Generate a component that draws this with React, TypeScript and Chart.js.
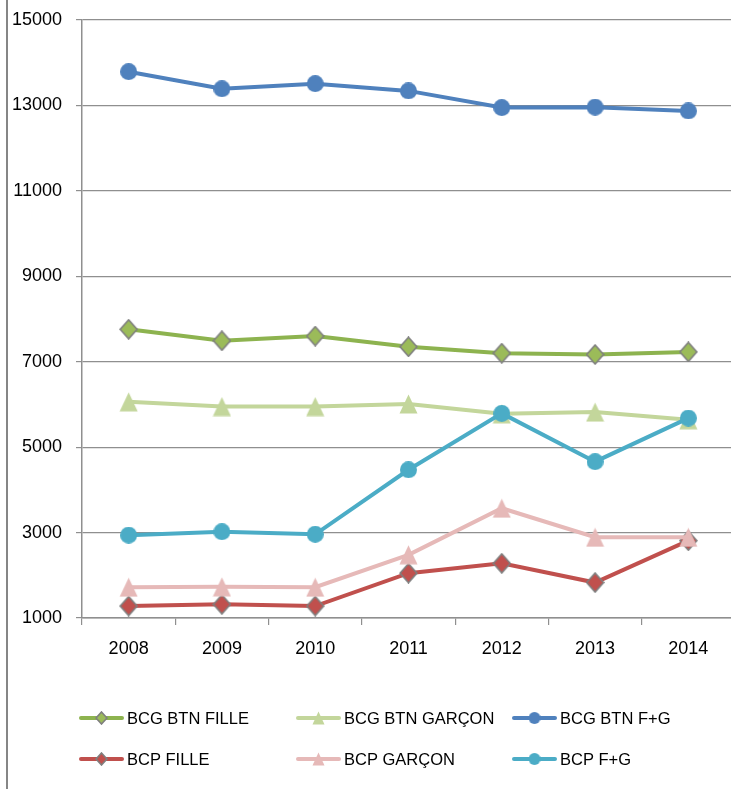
import React, { useEffect, useRef } from 'react';
import { Chart, registerables } from 'chart.js';

Chart.register(...registerables);

const categories = ['2008', '2009', '2010', '2011', '2012', '2013', '2014'];
const bcgBtnFille = [7760, 7490, 7600, 7350, 7200, 7170, 7230];
const bcgBtnGarcon = [6060, 5950, 5950, 6010, 5780, 5820, 5640];
const bcgBtnFG = [13790, 13390, 13510, 13340, 12950, 12960, 12870];
const bcpFille = [1280, 1320, 1280, 2050, 2280, 1830, 2810];
const bcpGarcon = [1720, 1730, 1720, 2480, 3570, 2890, 2890];
const bcpFG = [2940, 3020, 2960, 4470, 5790, 4660, 5680];
const yMin = 1000;
const yMax = 15000;
const yStep = 2000;

const seriesNames = ['BCG BTN FILLE', 'BCG BTN GARÇON', 'BCG BTN F+G', 'BCP FILLE', 'BCP GARÇON', 'BCP F+G'];
const seriesData = [bcgBtnFille, bcgBtnGarcon, bcgBtnFG, bcpFille, bcpGarcon, bcpFG];
const lineColors = ['#8DB34F', '#C3D69B', '#4F81BD', '#C0504D', '#E6B9B8', '#4BACC6'];
const markerFills = ['#9BBB59', '#C3D69B', '#4F81BD', '#C0504D', '#E6B9B8', '#4BACC6'];
const markerKinds = ['diamond', 'triangle', 'circle', 'diamond', 'triangle', 'circle'];

const FONT = '"Liberation Sans", Arial, sans-serif';
const GRID = '#8f8f8f';

function makeMarker(kind: string, fill: string, scale: number): HTMLCanvasElement {
  const c = document.createElement('canvas');
  let w = 19, h = 20;
  if (kind === 'diamond') { w = 19; h = 21; }
  if (kind === 'circle') { w = 17; h = 17; }
  w = Math.round(w * scale); h = Math.round(h * scale);
  c.width = w; c.height = h;
  const ctx = c.getContext('2d')!;
  ctx.fillStyle = fill;
  ctx.beginPath();
  if (kind === 'diamond') {
    ctx.moveTo(w / 2, 1);
    ctx.lineTo(w - 1, h / 2);
    ctx.lineTo(w / 2, h - 1);
    ctx.lineTo(1, h / 2);
    ctx.closePath();
    ctx.fill();
    ctx.strokeStyle = '#7F7F7F';
    ctx.lineWidth = 1.6;
    ctx.stroke();
  } else if (kind === 'triangle') {
    ctx.moveTo(w / 2, 0.5);
    ctx.lineTo(w - 0.5, h - 0.5);
    ctx.lineTo(0.5, h - 0.5);
    ctx.closePath();
    ctx.fill();
  } else {
    ctx.arc(w / 2, h / 2, w / 2, 0, Math.PI * 2);
    ctx.fill();
  }
  return c;
}

export default function App() {
  const ref = useRef<HTMLCanvasElement>(null);

  useEffect(() => {
    const canvas = ref.current!;
    const markers = markerKinds.map((k, i) => makeMarker(k, markerFills[i], 1));
    const legendMarkers = markerKinds.map((k, i) => makeMarker(k, markerFills[i], 0.68));

    const legendPlugin = {
      id: 'customLegend',
      afterDraw(chart: any) {
        const ctx = chart.ctx as CanvasRenderingContext2D;
        const area = chart.chartArea;
        const rows = [area.bottom + 100, area.bottom + 141];
        const cols = [area.left - 2, area.left + 215, area.left + 431];
        ctx.save();
        seriesNames.forEach((name, i) => {
          const y = rows[Math.floor(i / 3)];
          const x = cols[i % 3];
          ctx.strokeStyle = lineColors[i];
          ctx.lineWidth = 4;
          ctx.lineCap = 'round';
          ctx.beginPath();
          ctx.moveTo(x + 1, y);
          ctx.lineTo(x + 42, y);
          ctx.stroke();
          const m = legendMarkers[i];
          ctx.drawImage(m, x + 21.5 - m.width / 2, y - m.height / 2);
          ctx.fillStyle = '#000';
          ctx.font = `16.5px ${FONT}`;
          ctx.textBaseline = 'middle';
          ctx.textAlign = 'left';
          ctx.fillText(name, x + 47, y + 1);
        });
        ctx.restore();
      },
    };

    const chart = new Chart(canvas, {
      type: 'line',
      data: {
        labels: categories,
        datasets: seriesNames.map((name, i) => ({
          label: name,
          data: seriesData[i],
          borderColor: lineColors[i],
          backgroundColor: markerFills[i],
          borderWidth: 4,
          pointStyle: markers[i],
          pointRadius: 9,
          pointHoverRadius: 9,
          tension: 0,
          fill: false,
          order: seriesNames.length - i,
        })),
      },
      options: {
        animation: false,
        responsive: false,
        devicePixelRatio: 1,
        layout: { padding: { top: 20, bottom: 111, left: 0, right: 0 } },
        plugins: { legend: { display: false }, tooltip: { enabled: false } },
        scales: {
          x: {
            type: 'category',
            offset: true,
            grid: { display: true, drawOnChartArea: false, offset: true, tickLength: 7, color: GRID, lineWidth: 1.2 },
            border: { color: GRID, width: 1.5 },
            ticks: { color: '#000', font: { family: FONT, size: 18 }, padding: 13, maxRotation: 0, autoSkip: false },
            afterFit: (s: any) => { s.height = 60; s.paddingLeft = 0; s.paddingRight = 0; },
          },
          y: {
            min: yMin,
            max: yMax,
            ticks: {
              stepSize: yStep,
              color: '#000',
              font: { family: FONT, size: 18 },
              padding: 14,
              callback: (v: any) => String(v),
            },
            grid: { color: GRID, tickLength: 6, lineWidth: 1.2 },
            border: { color: GRID, width: 1.5 },
            afterFit: (s: any) => { s.width = 82; s.paddingTop = 0; s.paddingBottom = 0; },
          },
        },
      },
      plugins: [legendPlugin],
    });
    return () => chart.destroy();
  }, []);

  return (
    <div style={{ position: 'fixed', left: 0, top: 0, width: 731, height: 789, overflow: 'hidden', background: '#fff' }}>
      <div style={{ position: 'absolute', left: 6, top: 0, width: 2, height: 789, background: '#868686' }} />
      <canvas ref={ref} width={748} height={789} style={{ position: 'absolute', left: 0, top: 0 }} />
    </div>
  );
}
